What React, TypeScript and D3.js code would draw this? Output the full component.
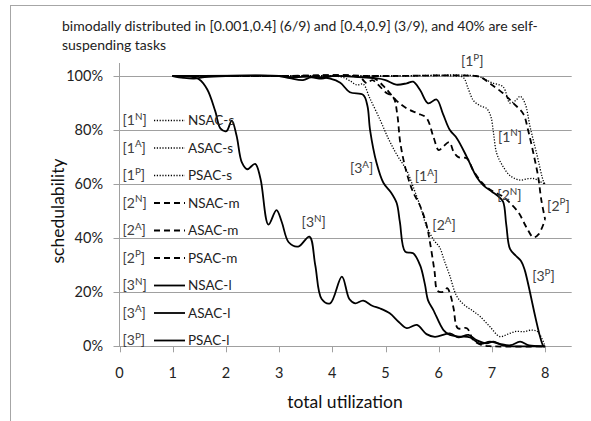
import React from "react";
import * as d3 from "d3";

type P = [number, number];

const xTicks = [0, 1, 2, 3, 4, 5, 6, 7, 8];
const yTicks = [0, 20, 40, 60, 80, 100];

const nsacS: P[] = [[1,100],[3,100],[5,100],[6.3,100],[6.46,99.5],[6.56,95],[6.65,91],[6.78,89],[6.9,88],[6.98,85],[7.03,79],[7.09,71.4],[7.21,66.5],[7.35,63],[7.53,61.5],[7.68,62],[7.8,62],[7.9,61],[8,60]];
const asacS: P[] = [[1,100],[3,100],[4,100],[4.2,99.5],[4.35,98],[4.46,96.7],[4.58,97],[4.7,92],[4.9,83.7],[5.05,77],[5.21,71],[5.4,65],[5.52,59],[5.65,52],[5.77,44.5],[5.9,39.5],[6.02,36.5],[6.1,32],[6.21,26],[6.34,18.5],[6.5,15],[6.65,13],[6.78,11],[6.96,7.3],[7.15,3.6],[7.3,4.5],[7.45,5.5],[7.6,5.4],[7.75,6],[7.86,5.4],[8,0]];
const psacS: P[] = [[1,100],[3,100],[5,100],[6.7,100],[6.85,99],[7.0,97.5],[7.21,96],[7.34,90],[7.45,91],[7.53,92.5],[7.62,90],[7.72,81],[7.84,71.4],[7.97,61],[8,60]];
const nsacM: P[] = [[1,100],[3,100],[4.6,100],[4.8,99],[5.0,95.5],[5.2,91],[5.4,88],[5.6,86.2],[5.77,84.5],[5.9,77.5],[6.0,72.6],[6.09,74],[6.2,75.5],[6.28,72],[6.37,70],[6.53,69.5],[6.65,65],[6.84,60],[7.0,57.5],[7.2,55.5],[7.34,53],[7.5,49.5],[7.65,44],[7.78,40.3],[7.88,41.5],[8,47]];
const asacM: P[] = [[1,100],[3,100],[4.4,100],[4.55,99],[4.65,97.3],[4.75,98.5],[4.85,97],[5.0,94],[5.15,92],[5.22,86],[5.28,75],[5.4,64],[5.52,57],[5.65,52],[5.77,45],[5.84,38],[5.92,28],[5.98,20.5],[6.09,20.2],[6.16,21.5],[6.22,19],[6.28,14],[6.36,6.7],[6.53,6.7],[6.65,2.3],[6.8,0.5],[7.0,0],[8,0]];
const psacM: P[] = [[1,100],[3,100],[5,100],[6.7,100],[6.8,99.5],[6.96,97.3],[7.21,93.6],[7.4,90],[7.59,86],[7.68,80],[7.78,71.4],[7.87,62.7],[7.93,54],[8,47]];
const nsacL: P[] = [[1,100],[1.3,99.8],[1.5,98.7],[1.65,95],[1.8,87],[1.9,80.5],[2.01,79.6],[2.11,83.5],[2.2,78],[2.3,68],[2.4,65.5],[2.55,67.5],[2.65,62],[2.8,45],[2.95,50.4],[3.05,46],[3.18,38.5],[3.36,36.9],[3.57,40.6],[3.68,30],[3.8,17.5],[3.96,15.9],[4.18,25.8],[4.32,17.5],[4.43,15.9],[4.58,16.9],[4.75,15],[4.9,14],[5.08,12.2],[5.25,9],[5.4,6.7],[5.59,7.9],[5.77,4.5],[5.93,3.5],[6.21,4.8],[6.37,3.3],[6.56,4.2],[6.71,2.3],[6.9,1.1],[7.03,1.7],[7.2,0.3],[7.4,0],[8,0]];
const asacL: P[] = [[1,100],[3,100],[3.3,99.5],[3.6,99.8],[3.96,99],[4.15,97.5],[4.33,94],[4.58,93],[4.66,89],[4.71,80],[4.83,68],[4.96,60.5],[5.1,57],[5.21,53],[5.27,46],[5.37,35],[5.52,34.4],[5.65,30],[5.74,23],[5.8,17],[5.9,13.4],[6.09,6],[6.21,4.2],[6.4,3.6],[6.59,3.3],[6.78,0.9],[6.96,1.7],[7.15,0.9],[7.35,0.4],[7.53,1.7],[7.7,0.3],[8,0]];
const psacL: P[] = [[1,100],[1.2,99.3],[1.4,99],[1.6,99.6],[2,100],[3,100],[3.2,99.2],[3.45,98.5],[3.6,99.5],[3.8,99],[4,100],[4.5,99.6],[4.8,99.2],[5.0,98.5],[5.2,96.8],[5.4,97.3],[5.52,97.9],[5.65,94.8],[5.8,89.9],[5.96,91.3],[6.08,86],[6.21,80],[6.34,77],[6.53,70],[6.71,62.7],[6.84,59.5],[7.0,57.2],[7.12,55.5],[7.21,53.5],[7.27,45],[7.34,36],[7.45,33.5],[7.55,31.5],[7.62,28],[7.97,0],[8,0]];

const seriesNames = ["NSAC-s","ASAC-s","PSAC-s","NSAC-m","ASAC-m","PSAC-m","NSAC-l","ASAC-l","PSAC-l"];
const seriesNum = ["1","1","1","2","2","2","3","3","3"];
const seriesSup = ["N","A","P","N","A","P","N","A","P"];
const seriesData = [nsacS, asacS, psacS, nsacM, asacM, psacM, nsacL, asacL, psacL];

// annotation labels: [num, sup, x(util), y(pct)]
const annotations: [string, string, number, number][] = [
  ["1","P",6.63,105.5],["1","N",7.34,77.5],["2","P",8.25,52],["2","N",7.33,56],
  ["3","P",7.97,26],["2","A",6.1,45],["1","A",5.77,63],["3","A",4.55,66],["3","N",3.65,46]
];

const FONT = "Lato, 'Open Sans', 'Liberation Sans', sans-serif";

function styleFor(i: number) {
  if (i < 3) return { dash: "1.2,1.6", w: 1.3 };
  if (i < 6) return { dash: "6,4", w: 1.8 };
  return { dash: "none", w: 1.8 };
}

function Label({ x, y, num, sup, size, anchor }: { x: number; y: number; num: string; sup: string; size: number; anchor?: string }) {
  return (
    <text x={x} y={y} fontSize={size} fill="#404040" textAnchor={anchor || "start"} fontFamily={FONT}>
      [{num}<tspan fontSize={size * 0.7} dy={-size * 0.38}>{sup}</tspan>
      <tspan dy={size * 0.38}>]</tspan>
    </text>
  );
}

export default function App() {
  const W = 591, H = 421;
  const x = d3.scaleLinear().domain([0, 8.5]).range([119.5, 571.7]);
  const y = d3.scaleLinear().domain([0, 100]).range([346.3, 76]);
  const line = d3.line<P>().x(d => x(d[0])).y(d => y(d[1])).curve(d3.curveCatmullRom.alpha(0.5));

  const legendY0 = 120, legendStep = 27.5;

  return (
    <svg width={W} height={H} style={{ position: "absolute", left: 0, top: 0 }}>
      <rect x={0} y={0} width={W} height={H} fill="#fff" />
      <rect x={10.5} y={5.5} width={590} height={430} fill="none" stroke="#a6a6a6" strokeWidth={1} />
      <text x={62} y={31} fontSize={14} fontFamily={FONT} fill="#222">bimodally distributed in [0.001,0.4] (6/9) and [0.4,0.9] (3/9), and 40% are self-</text>
      <text x={62} y={50} fontSize={14} fontFamily={FONT} fill="#222">suspending tasks</text>

      {yTicks.map(t => (
        <g key={"gy" + t}>
          <line x1={x(0) - 6} x2={x(8.5)} y1={Math.round(y(t)) + 0.5} y2={Math.round(y(t)) + 0.5} stroke="#a0a0a0" strokeWidth={1} />
          <text x={103} y={y(t) + 5} fontSize={14.5} textAnchor="end" fontFamily={FONT} fill="#222">{t}%</text>
        </g>
      ))}
      <line x1={x(0)} x2={x(0)} y1={63} y2={y(0)} stroke="#a0a0a0" />
      {xTicks.map(t => (
        <g key={"gx" + t}>
          <line x1={Math.round(x(t)) + 0.5} x2={Math.round(x(t)) + 0.5} y1={y(0)} y2={y(0) + 6} stroke="#a0a0a0" />
          <text x={x(t)} y={y(0) + 32} fontSize={14.5} textAnchor="middle" fontFamily={FONT} fill="#222">{t}</text>
        </g>
      ))}
      <text x={345} y={408} fontSize={17.5} textAnchor="middle" fontFamily={FONT} fill="#111">total utilization</text>
      <text transform={`translate(64,211) rotate(-90)`} fontSize={17.5} textAnchor="middle" fontFamily={FONT} fill="#111">schedulability</text>

      {seriesData.map((s, i) => {
        const st = styleFor(i);
        return <path key={"s" + i} d={line(s) || ""} fill="none" stroke="#000" strokeWidth={st.w} strokeDasharray={st.dash} />;
      })}

      {seriesNames.map((n, i) => {
        const st = styleFor(i);
        const cy = legendY0 + i * legendStep;
        return (
          <g key={"lg" + i}>
            <Label x={122.5} y={cy + 5} num={seriesNum[i]} sup={seriesSup[i]} size={14} />
            <line x1={154} x2={185} y1={cy + 0.5} y2={cy + 0.5} stroke="#000" strokeWidth={st.w} strokeDasharray={st.dash} />
            <text x={188} y={cy + 5} fontSize={13.5} fontFamily={FONT} fill="#222">{n}</text>
          </g>
        );
      })}

      {annotations.map((a, i) => (
        <Label key={"an" + i} x={x(a[2])} y={y(a[3]) + 5} num={a[0]} sup={a[1]} size={14} anchor="middle" />
      ))}
    </svg>
  );
}
